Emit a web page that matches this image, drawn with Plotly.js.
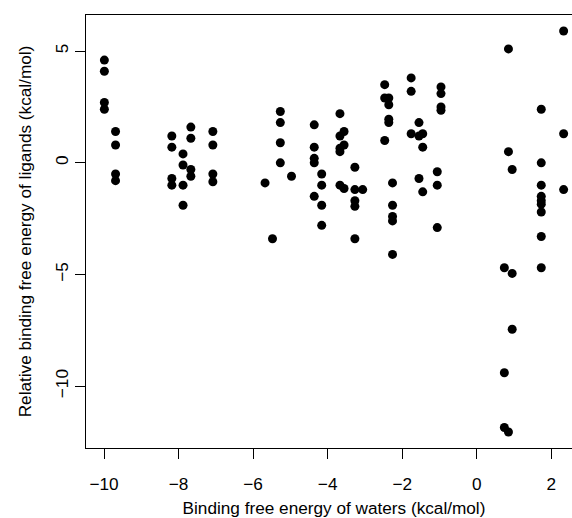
<!DOCTYPE html>
<html>
<head>
<meta charset="utf-8">
<script src="https://cdn.plot.ly/plotly-3.0.1.min.js"></script>
<style>html,body{margin:0;padding:0;overflow:hidden;background:#fff;}</style>
</head>
<body>
<div id="chart"></div>
<script>
// Binding free energy of waters (x) and relative binding free energy of ligands (y), kcal/mol
const waterEnergy = [
  -9.99,-9.99,-9.99,-9.99,
  -9.69,-9.69,-9.69,-9.69,
  -8.18,-8.18,-8.18,-8.18,
  -7.88,-7.88,-7.88,-7.88,
  -7.67,-7.67,-7.67,-7.67,
  -7.08,-7.08,-7.08,-7.08,
  -5.68,
  -5.48,
  -5.27,-5.27,-5.27,-5.27,
  -4.97,
  -4.36,-4.36,-4.36,-4.36,-4.36,
  -4.16,-4.16,-4.16,-4.16,
  -3.67,-3.67,-3.67,-3.67,-3.67,
  -3.56,-3.56,-3.56,
  -3.27,-3.27,-3.27,-3.27,-3.27,
  -3.06,
  -2.47,-2.47,-2.47,
  -2.36,-2.36,-2.36,-2.36,
  -2.26,-2.26,-2.26,-2.26,-2.26,
  -1.76,-1.76,-1.76,
  -1.55,-1.55,-1.55,
  -1.45,-1.45,-1.45,
  -0.96,-0.96,-0.96,-0.96,
  -1.06,-1.06,-1.06,
  0.74,0.74,0.74,
  0.85,0.85,0.85,
  0.95,0.95,0.95,
  1.73,1.73,1.73,1.73,1.73,1.73,1.73,1.73,1.73,
  2.33,2.33,2.33
];
const ligandEnergy = [
  4.6,4.1,2.7,2.4,
  1.4,0.8,-0.5,-0.8,
  1.2,0.7,-0.7,-1.0,
  0.4,-0.1,-1.0,-1.9,
  1.6,1.1,-0.3,-0.6,
  1.4,0.8,-0.5,-0.85,
  -0.9,
  -3.4,
  2.3,1.8,0.9,0.0,
  -0.6,
  1.7,0.7,0.2,0.0,-1.5,
  -0.5,-1.0,-1.9,-2.8,
  2.2,1.2,0.65,0.5,-1.0,
  1.4,0.8,-1.15,
  -0.2,-1.2,-1.7,-1.95,-3.4,
  -1.2,
  3.5,2.9,1.0,
  2.9,2.6,1.95,1.8,
  -0.9,-1.9,-2.4,-2.6,-4.1,
  3.8,3.2,1.3,
  1.8,1.2,-0.7,
  1.3,0.7,-1.3,
  3.4,3.1,2.5,2.35,
  -0.4,-1.0,-2.9,
  -4.7,-9.4,-11.85,
  5.1,0.5,-12.05,
  -0.3,-4.95,-7.45,
  2.4,0.0,-1.0,-1.5,-1.7,-1.85,-2.2,-3.3,-4.7,
  5.9,1.3,-1.2
];
const xTicks = [-10,-8,-6,-4,-2,0,2];
const yTicks = [-10,-5,0,5];
const xLabel = "Binding free energy of waters (kcal/mol)";
const yLabel = "Relative binding free energy of ligands (kcal/mol)";

function padRange(arr){
  const lo = Math.min(...arr), hi = Math.max(...arr), d = (hi-lo)*0.04;
  return [lo-d, hi+d];
}

const font = {family: "Liberation Sans, Arial, Helvetica, sans-serif", size: 17.2, color: "#000"};

const trace = {
  x: waterEnergy, y: ligandEnergy, type: "scatter", mode: "markers",
  marker: {color: "#000", size: 9, line: {width: 0}},
  hoverinfo: "x+y"
};

const axisCommon = {
  showgrid: false, zeroline: false, showline: true, mirror: true,
  linecolor: "#000", linewidth: 1, ticks: "outside", ticklen: 10,
  tickwidth: 1, tickcolor: "#000", tickfont: font, automargin: false
};

const layout = {
  width: 600, height: 518,
  margin: {l: 86, r: 18, t: 15, b: 70},
  paper_bgcolor: "#fff", plot_bgcolor: "#fff",
  font: font, showlegend: false,
  xaxis: Object.assign({}, axisCommon, {
    range: padRange(waterEnergy), tickvals: xTicks, ticktext: xTicks.map(v => v < 0 ? "\u2212" + Math.abs(v) : String(v)),
    ticklabelstandoff: 10,
    title: {text: xLabel, font: font, standoff: 12}
  }),
  yaxis: Object.assign({}, axisCommon, {
    range: padRange(ligandEnergy), tickvals: yTicks, ticktext: yTicks.map(v => v < 0 ? "\u2212" + Math.abs(v) : String(v)),
    tickangle: -90, ticklabelstandoff: 0,
    title: {text: yLabel, font: font, standoff: 16}
  })
};

Plotly.newPlot("chart", [trace], layout, {staticPlot: true, displayModeBar: false});
</script>
</body>
</html>
